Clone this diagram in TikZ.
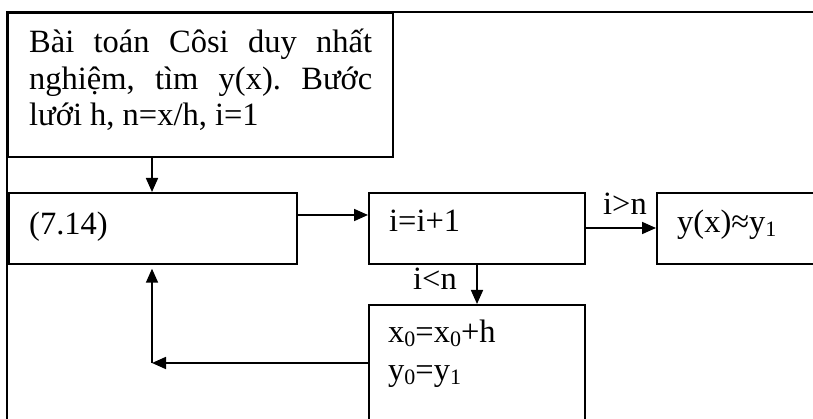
\documentclass[tikz,border=0pt]{standalone}
\usepackage{fontspec}
\setmainfont{Liberation Serif}
\usetikzlibrary{arrows.meta}
\frenchspacing
\newcommand\sbs[1]{\raisebox{-4pt}{\fontsize{22}{22}\selectfont #1}}
\begin{document}
\begin{tikzpicture}[x=1pt,y=-1pt,
  boxst/.style={draw,line width=1.7pt,inner sep=0pt,anchor=north west,fill=white},
  txt/.style={inner sep=0pt,anchor=base west,font=\fontsize{32.5}{37}\selectfont},
  arr/.style={line width=1.7pt,-{Triangle[length=14pt,width=12pt]}}]
\useasboundingbox (0,0) rectangle (813,419);
\clip (0,0) rectangle (813,419);
% outer frame
\coordinate (fa) at (7,430);
\coordinate (fb) at (7,12);
\coordinate (fc) at (830,12);
\draw[line width=1.7pt] (fa) -- (fb) -- (fc);
% boxes
\node[boxst,minimum width=385pt,minimum height=144pt] (b1) at (7,12) {};
\node[boxst,minimum width=288pt,minimum height=71pt] (b2) at (8,192) {};
\node[boxst,minimum width=216pt,minimum height=71pt] (b3) at (368,192) {};
\node[boxst,minimum width=200pt,minimum height=71pt] (b4) at (656,192) {};
\node[boxst,minimum width=216pt,minimum height=150pt] (b5) at (368,304) {};
% texts
\node[txt] (t1) at (29,53) {\makebox[343pt][s]{Bài toán Côsi duy nhất}};
\node[txt] (t2) at (29,89.5) {\makebox[343pt][s]{nghiệm, tìm y(x). Bước}};
\node[txt] (t3) at (29,126) {lưới h, n=x/h, i=1};
\node[txt] (t4) at (29,235) {(7.14)};
\node[txt] (t5) at (389,232) {i=i+1};
\node[txt] (t6) at (677,233) {y(x)≈y\sbs{1}};
\node[txt] (t7) at (388,342) {x\sbs{0}=x\sbs{0}+h};
\node[txt] (t8) at (388,380) {y\sbs{0}=y\sbs{1}};
\node[txt] (l1) at (603,215) {i>n};
\node[txt] (l2) at (413,290) {i<n};
% connector coordinates
\coordinate (c1) at (152,0);
\coordinate (c2) at (477,0);
\coordinate (r1) at (0,215);
\coordinate (r2) at (0,228);
\coordinate (r3) at (0,363);
\coordinate (k) at (152,363);
% connectors
\draw[arr] (c1 |- b1.south) -- (c1 |- b2.north);
\draw[arr] (r1 -| b2.east) -- (r1 -| b3.west);
\draw[arr] (r2 -| b3.east) -- (r2 -| b4.west);
\draw[arr] (c2 |- b3.south) -- (c2 |- b5.north);
\draw[arr] (r3 -| b5.west) -- (k);
\draw[arr] (k) -- ([yshift=-4pt]c1 |- b2.south);
\end{tikzpicture}
\end{document}
